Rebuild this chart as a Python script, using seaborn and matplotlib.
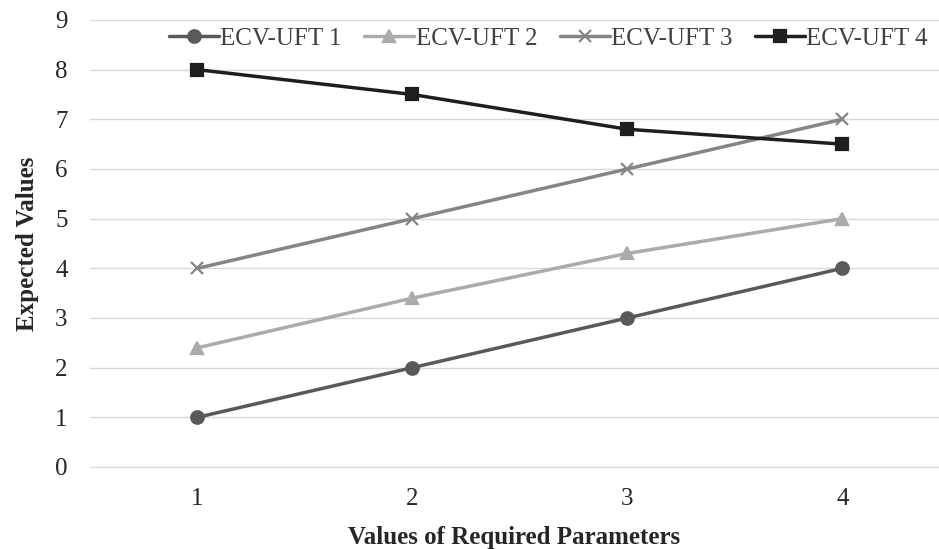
import pandas as pd
import numpy as np
import matplotlib
matplotlib.use("Agg")
import matplotlib.pyplot as plt
import seaborn as sns

params = [1, 2, 3, 4]
uft1 = [1, 2, 3, 4]
uft2 = [2.4, 3.4, 4.3, 5.0]
uft3 = [4, 5, 6, 7]
uft4 = [8, 7.5, 6.8, 6.5]
series_names = ["ECV-UFT 1", "ECV-UFT 2", "ECV-UFT 3", "ECV-UFT 4"]

df = pd.DataFrame({
    "param": params * 4,
    "value": uft1 + uft2 + uft3 + uft4,
    "series": np.repeat(series_names, len(params)),
})

sns.set_style("white")
plt.rcParams["font.family"] = ["Liberation Serif", "DejaVu Serif"]

colors = {"ECV-UFT 1": "#595959", "ECV-UFT 2": "#ababab",
          "ECV-UFT 3": "#858585", "ECV-UFT 4": "#1e1e1e"}
markers = {"ECV-UFT 1": "o", "ECV-UFT 2": "^", "ECV-UFT 3": "x", "ECV-UFT 4": "s"}

fig = plt.figure(figsize=(9.39, 5.49), dpi=100)
ax = fig.add_axes([0.0958, 0.1494, 0.9042, 0.8142])

# one call per series so filled and line markers can mix
for name in series_names:
    sub = df[df["series"] == name]
    sns.lineplot(data=sub, x="param", y="value", color=colors[name],
                 marker=markers[name], linewidth=2.5, markersize=9,
                 markeredgewidth=1.6, markeredgecolor=colors[name],
                 label=name, ax=ax)

ax.set_xlim(0.5, 4.45)
ax.set_ylim(0, 9)
ax.set_xticks(params)
ax.set_yticks(range(0, 10))
ax.yaxis.grid(True, color="#d9d9d9", linewidth=1)
ax.set_axisbelow(True)
for s in ["top", "right", "left"]:
    ax.spines[s].set_visible(False)
ax.spines["bottom"].set_color("#d9d9d9")
ax.tick_params(axis="both", length=0, labelsize=18, colors="#262626")
ax.tick_params(axis="x", pad=15)
ax.tick_params(axis="y", pad=16)

ax.set_xlabel("Values of Required Parameters", fontsize=18, fontweight="bold",
              color="#262626", labelpad=12)
ax.set_ylabel("Expected Values", fontsize=18, fontweight="bold",
              color="#262626", labelpad=12)

leg = ax.legend(loc="center", bbox_to_anchor=(0.54, 0.958), ncol=4,
                frameon=False, fontsize=18, handlelength=2.0, handletextpad=0.05,
                columnspacing=0.9, borderpad=0, borderaxespad=0)
for t in leg.get_texts():
    t.set_color("#404040")

fig.savefig("out.png", dpi=100)
